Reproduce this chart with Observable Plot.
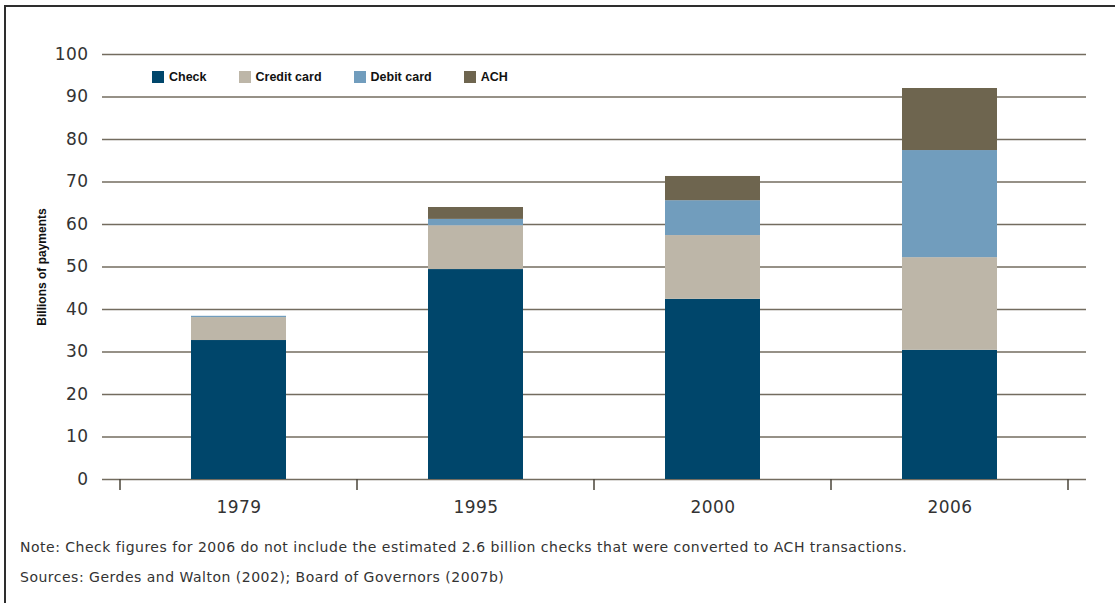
<!DOCTYPE html>
<html>
<head>
<meta charset="utf-8">
<script src="https://cdn.jsdelivr.net/npm/d3@7"></script>
<script src="https://cdn.jsdelivr.net/npm/@observablehq/plot@0.6"></script>
<style>
  html, body { margin: 0; padding: 0; background: #fff; }
  #page { position: relative; width: 1115px; height: 603px; overflow: hidden; }
  #frame { position: absolute; left: 4px; top: 5px; width: 1200px; height: 700px;
           border-left: 2px solid #2e2e2e; border-top: 2px solid #2e2e2e; }
  #chart { position: absolute; left: 0; top: 0; }
  #legend { position: absolute; left: 152px; top: 71px; display: flex; gap: 32px;
            font: bold 12.5px "Liberation Sans", Arial, sans-serif; color: #111; line-height: 12px; }
  #legend .item { display: flex; align-items: center; }
  #legend .sw { width: 12px; height: 12px; margin-right: 5px; }
  .note { position: absolute; left: 20px; font: 14px "DejaVu Sans", sans-serif; letter-spacing: 0.5px;
          color: #333; white-space: nowrap; }
  #chart svg g[aria-label="y-axis tick label"] text,
  #chart svg g[aria-label="x-axis tick label"] text { letter-spacing: 0.4px; }
</style>
</head>
<body>
<div id="page">
  <div id="frame"></div>
  <div id="chart"></div>
  <div id="legend"></div>
  <div class="note" id="note1" style="top:539px"></div>
  <div class="note" id="note2" style="top:569px"></div>
</div>
<script>
const years = ["1979", "1995", "2000", "2006"];
const types = ["Check", "Credit card", "Debit card", "ACH"];
const checkValues  = [32.7, 49.4, 42.4, 30.4];
const creditValues = [5.4, 10.3, 15.0, 21.8];
const debitValues  = [0.3, 1.5, 8.2, 25.2];
const achValues    = [0.0, 2.8, 5.7, 14.6];
const colors = ["#00466b", "#bdb6a8", "#719dbd", "#6e654f"];
const yTicks = [0, 10, 20, 30, 40, 50, 60, 70, 80, 90, 100];
const yLabel = "Billions of payments";
const noteText = "Note: Check figures for 2006 do not include the estimated 2.6 billion checks that were converted to ACH transactions.";
const sourceText = "Sources: Gerdes and Walton (2002); Board of Governors (2007b)";

const series = [checkValues, creditValues, debitValues, achValues];
const data = [];
years.forEach((year, i) => {
  types.forEach((type, j) => data.push({year, type, value: series[j][i]}));
});

const plot = Plot.plot({
  width: 1115,
  height: 530,
  marginLeft: 119,
  marginRight: 46,
  marginTop: 54,
  marginBottom: 51,
  style: {fontFamily: "'DejaVu Sans', sans-serif", fontSize: "17px", color: "#333", background: "transparent"},
  x: {domain: years, paddingInner: 0.6, paddingOuter: 0.3, label: null},
  y: {domain: [0, 100], label: null},
  color: {domain: types, range: colors},
  marks: [
    Plot.ruleY(yTicks, {stroke: "#736c5f", strokeWidth: 1.5, insetLeft: -17, insetRight: -17}),
    Plot.barY(data, {x: "year", y: "value", fill: "type"}),
    Plot.axisY(yTicks, {tickSize: 0, tickPadding: 31, label: null, fontSize: 17}),
    Plot.axisX({tickSize: 0, tickPadding: 21, label: null, fontSize: 17}),
    Plot.text([yLabel], {frameAnchor: "left", textAnchor: "middle", rotate: -90, dx: -77, fontWeight: "bold",
      fontSize: 12, fontFamily: "'Liberation Sans', Arial, sans-serif", fill: "#111"})
  ]
});
document.getElementById("chart").appendChild(plot);

// boundary ticks between categories, from the band scale
const xs = plot.scale("x");
const ys = plot.scale("y");
const centers = years.map(y => xs.apply(y) + xs.bandwidth / 2);
const bounds = centers.map(c => c - xs.step / 2).concat([centers[centers.length - 1] + xs.step / 2]);
d3.select(plot).append("g")
  .selectAll("line").data(bounds).join("line")
  .attr("x1", d => d).attr("x2", d => d)
  .attr("y1", ys.apply(0)).attr("y2", ys.apply(0) + 11)
  .attr("stroke", "#4a4438").attr("stroke-width", 1.5);

// legend
const legend = d3.select("#legend");
types.forEach((t, i) => {
  const item = legend.append("div").attr("class", "item");
  item.append("div").attr("class", "sw").style("background", colors[i]);
  item.append("span").text(t);
});
document.getElementById("note1").textContent = noteText;
document.getElementById("note2").textContent = sourceText;
</script>
</body>
</html>
